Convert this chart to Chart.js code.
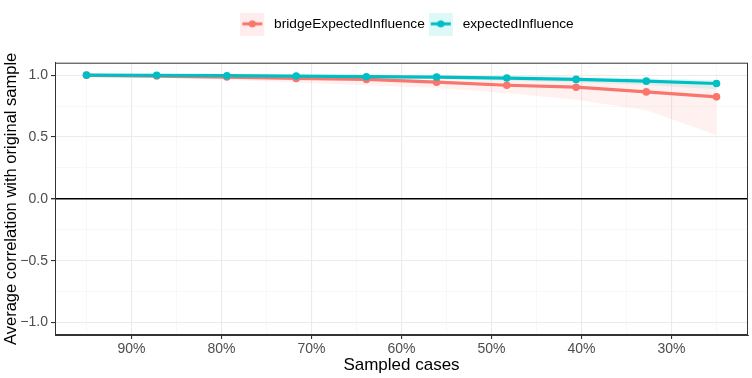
<!DOCTYPE html>
<html>
<head>
<meta charset="utf-8">
<script src="https://cdn.jsdelivr.net/npm/chart.js@4.4.0/dist/chart.umd.min.js"></script>
<style>
  html, body { margin: 0; padding: 0; background: #fff; }
  #wrap { width: 752px; height: 378px; }
</style>
</head>
<body>
<div id="wrap"><canvas id="stabChart" width="752" height="378"></canvas></div>
<script>
// sampled cases (%), x axis is reversed
var sampled = [95, 87.2, 79.4, 71.7, 63.9, 56.1, 48.3, 40.6, 32.8, 25];

// bridgeExpectedInfluence: mean correlation and ribbon bounds
var bridgeEI   = [0.998, 0.992, 0.984, 0.973, 0.965, 0.943, 0.918, 0.902, 0.864, 0.824];
var bridgeLow  = [0.993, 0.978, 0.962, 0.940, 0.918, 0.895, 0.856, 0.800, 0.715, 0.516];
var bridgeHigh = [1.000, 0.999, 0.997, 0.993, 0.988, 0.980, 0.970, 0.960, 0.945, 0.930];

// expectedInfluence
var expEI   = [1.000, 0.998, 0.995, 0.992, 0.987, 0.984, 0.976, 0.965, 0.951, 0.932];
var expLow  = [0.998, 0.993, 0.988, 0.983, 0.975, 0.968, 0.955, 0.940, 0.920, 0.885];
var expHigh = [1.000, 1.000, 0.999, 0.998, 0.996, 0.994, 0.990, 0.984, 0.975, 0.960];

// ticks
var xTicks = [95, 90, 85, 80, 75, 70, 65, 60, 55, 50, 45, 40, 35, 30, 25];
var yTicks = [-1, -0.75, -0.5, -0.25, 0, 0.25, 0.5, 0.75, 1];

var seriesNames = ['bridgeExpectedInfluence', 'expectedInfluence'];
var red = '#F8766D', cyan = '#00BFC4';
var FONT = 'Liberation Sans, Arial, sans-serif';

function pts(ys) {
  return sampled.map(function (x, i) { return { x: x, y: ys[i] }; });
}

// legend key like ggplot: light box, line, point (3px transparent on the right)
function makeKey(col, fill) {
  var c = document.createElement('canvas');
  c.width = 27; c.height = 24;
  var g = c.getContext('2d');
  g.fillStyle = fill;
  g.fillRect(0, 0, 24, 24);
  g.strokeStyle = col;
  g.lineWidth = 3;
  g.beginPath(); g.moveTo(2, 12); g.lineTo(22, 12); g.stroke();
  g.fillStyle = col;
  g.beginPath(); g.arc(12, 12, 3.6, 0, Math.PI * 2); g.fill();
  return c;
}
var keyRed = makeKey(red, 'rgba(248,118,109,0.13)');
var keyCyan = makeKey(cyan, 'rgba(0,191,196,0.13)');

var isMajor = function (v) { return Math.abs(v * 2 - Math.round(v * 2)) < 1e-9; };

// leave room under the legend and nudge it right, like the ggplot layout
var legendSpace = {
  id: 'legendSpace',
  beforeLayout: function (chart) {
    var lg = chart.legend;
    if (lg && !lg._patched) {
      var fit = lg.fit;
      lg.fit = function () { fit.call(this); this.height += 22; };
      lg._patched = true;
    }
  },
  afterLayout: function (chart) {
    var lg = chart.legend;
    if (lg) { lg.left += 33; lg.right += 33; }
  }
};

var panelBorder = {
  id: 'panelBorder',
  afterDraw: function (chart) {
    var a = chart.chartArea, ctx = chart.ctx;
    ctx.save();
    ctx.strokeStyle = '#333333';
    ctx.lineWidth = 1;
    ctx.strokeRect(a.left + 0.5, a.top + 0.5, a.right - a.left - 1, a.bottom - a.top - 1);
    ctx.restore();
  }
};

var ctx = document.getElementById('stabChart').getContext('2d');
new Chart(ctx, {
  type: 'line',
  data: {
    datasets: [
      { label: seriesNames[0], data: pts(bridgeEI), borderColor: red, backgroundColor: red,
        borderWidth: 3.2, pointRadius: 3.8, pointBorderWidth: 0, pointHoverRadius: 3.8, order: 1, fill: false },
      { label: seriesNames[1], data: pts(expEI), borderColor: cyan, backgroundColor: cyan,
        borderWidth: 3.2, pointRadius: 3.8, pointBorderWidth: 0, pointHoverRadius: 3.8, order: 0, fill: false },
      { label: 'bLow', data: pts(bridgeLow), borderWidth: 0, pointRadius: 0, fill: false, order: 3 },
      { label: 'bHigh', data: pts(bridgeHigh), borderWidth: 0, pointRadius: 0, fill: '-1', order: 3,
        backgroundColor: 'rgba(248,118,109,0.1)' },
      { label: 'eLow', data: pts(expLow), borderWidth: 0, pointRadius: 0, fill: false, order: 2 },
      { label: 'eHigh', data: pts(expHigh), borderWidth: 0, pointRadius: 0, fill: '-1', order: 2,
        backgroundColor: 'rgba(0,191,196,0.1)' }
    ]
  },
  options: {
    responsive: false,
    animation: false,
    layout: { padding: { top: 13, right: 4, bottom: 0, left: 0 } },
    elements: { line: { tension: 0 } },
    plugins: {
      tooltip: { enabled: false },
      legend: {
        position: 'top',
        labels: {
          usePointStyle: true,
          pointStyleWidth: 27,
          boxHeight: 14,
          padding: 4,
          color: '#000',
          font: { family: FONT, size: 13.7 },
          generateLabels: function (chart) {
            return seriesNames.map(function (n, i) {
              return { text: n, datasetIndex: i, pointStyle: i === 0 ? keyRed : keyCyan,
                       fillStyle: 'transparent', strokeStyle: 'transparent', lineWidth: 0, fontColor: '#000' };
            });
          }
        }
      }
    },
    scales: {
      x: {
        type: 'linear',
        reverse: true,
        min: 21.5,
        max: 98.5,
        afterBuildTicks: function (s) { s.ticks = xTicks.map(function (v) { return { value: v }; }); },
        afterFit: function (s) { s.height = 43; },
        border: { display: true, color: '#333333', width: 1 },
        grid: {
          color: function (c) { return c.tick && c.tick.value % 10 === 0 ? '#EBEBEB' : '#F3F3F3'; },
          lineWidth: function (c) { return c.tick && c.tick.value % 10 === 0 ? 1.1 : 0.6; },
          tickColor: function (c) { return c.tick && c.tick.value % 10 === 0 ? '#333333' : 'rgba(0,0,0,0)'; },
          tickLength: 4
        },
        ticks: {
          autoSkip: false,
          maxRotation: 0,
          padding: 2,
          color: '#4D4D4D',
          font: { family: FONT, size: 14 },
          callback: function (v) { return v % 10 === 0 ? v + '%' : ''; }
        },
        title: {
          display: true,
          text: 'Sampled cases',
          color: '#000',
          padding: { top: 0, bottom: 2 },
          font: { family: FONT, size: 17 }
        }
      },
      y: {
        type: 'linear',
        min: -1.1,
        max: 1.1,
        afterBuildTicks: function (s) { s.ticks = yTicks.map(function (v) { return { value: v }; }); },
        afterFit: function (s) { s.width = 55; },
        border: { display: true, color: '#333333', width: 1 },
        grid: {
          color: function (c) {
            if (!c.tick) return '#EBEBEB';
            if (c.tick.value === 0) return '#000000';
            return isMajor(c.tick.value) ? '#EBEBEB' : '#F3F3F3';
          },
          lineWidth: function (c) {
            if (!c.tick) return 1;
            if (c.tick.value === 0) return 1.4;
            return isMajor(c.tick.value) ? 1.1 : 0.6;
          },
          tickColor: function (c) { return c.tick && isMajor(c.tick.value) ? '#333333' : 'rgba(0,0,0,0)'; },
          tickLength: 4
        },
        ticks: {
          autoSkip: false,
          padding: 3,
          color: '#4D4D4D',
          font: { family: FONT, size: 14 },
          callback: function (v) {
            if (!isMajor(v)) return '';
            return (v < 0 ? '\u2212' : '') + Math.abs(v).toFixed(1);
          }
        },
        title: {
          display: true,
          text: 'Average correlation with original sample',
          color: '#000',
          padding: { top: 2, bottom: 0 },
          font: { family: FONT, size: 16.5 }
        }
      }
    }
  },
  plugins: [legendSpace, panelBorder]
});
</script>
</body>
</html>
